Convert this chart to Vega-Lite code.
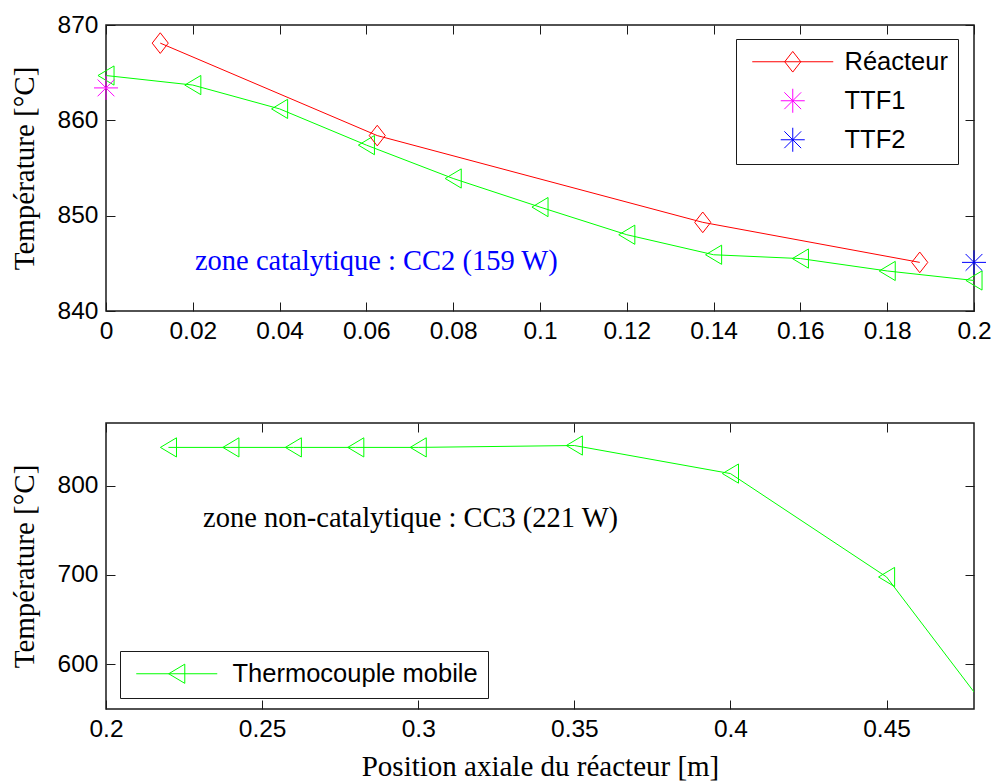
{
  "$schema": "https://vega.github.io/schema/vega-lite/v6.json",
  "background": "white",
  "padding": {"left": 9, "top": 11, "right": 5, "bottom": 5},
  "spacing": 112,
  "bounds": "flush",
  "datasets": {
    "tcTop": [
      {"x": 0, "y": 864.7}, {"x": 0.02, "y": 863.7}, {"x": 0.04, "y": 861.2},
      {"x": 0.06, "y": 857.4}, {"x": 0.08, "y": 853.9}, {"x": 0.1, "y": 850.9},
      {"x": 0.12, "y": 848.0}, {"x": 0.14, "y": 845.9}, {"x": 0.16, "y": 845.5},
      {"x": 0.18, "y": 844.2}, {"x": 0.2, "y": 843.2}
    ],
    "reacteur": [
      {"x": 0.0125, "y": 868.1, "serie": "Réacteur"},
      {"x": 0.0625, "y": 858.4, "serie": "Réacteur"},
      {"x": 0.1375, "y": 849.3, "serie": "Réacteur"},
      {"x": 0.1875, "y": 845.1, "serie": "Réacteur"}
    ],
    "ttf": [
      {"x": 0, "y": 863.4, "serie": "TTF1"},
      {"x": 0.2, "y": 845.1, "serie": "TTF2"}
    ],
    "tcBot": [
      {"x": 0.22, "y": 842.7, "serie": "Thermocouple mobile"},
      {"x": 0.24, "y": 842.7, "serie": "Thermocouple mobile"},
      {"x": 0.26, "y": 842.7, "serie": "Thermocouple mobile"},
      {"x": 0.28, "y": 842.7, "serie": "Thermocouple mobile"},
      {"x": 0.30, "y": 842.7, "serie": "Thermocouple mobile"},
      {"x": 0.35, "y": 844.8, "serie": "Thermocouple mobile"},
      {"x": 0.40, "y": 813.4, "serie": "Thermocouple mobile"},
      {"x": 0.45, "y": 697.7, "serie": "Thermocouple mobile"},
      {"x": 0.50, "y": 468.0, "serie": "Thermocouple mobile"}
    ],
    "noteTop": [{"x": 0.0205, "y": 845.2, "label": "zone catalytique : CC2 (159 W)"}],
    "noteBot": [{"x": 0.2311, "y": 764, "label": "zone non-catalytique : CC3 (221 W)"}]
  },
  "config": {
    "view": {"stroke": "#1a1a1a", "strokeWidth": 1.5},
    "axis": {
      "domain": false, "grid": false, "tickColor": "#1a1a1a", "tickSize": -9, "tickWidth": 1,
      "labelFont": "Liberation Sans", "labelFontSize": 24.5, "labelColor": "black",
      "labelPadding": 17, "labelFlush": false, "labelOverlap": false,
      "titleFont": "Liberation Serif", "titleFontSize": 29, "titleFontWeight": "normal", "titleColor": "black"
    },
    "legend": {
      "orient": "none", "strokeColor": "#1a1a1a", "fillColor": "white", "padding": 10, "cornerRadius": 0,
      "labelFont": "Liberation Sans", "labelFontSize": 25.5, "labelColor": "black",
      "symbolSize": 576, "symbolStrokeWidth": 1, "rowPadding": 10, "symbolOffset": 34, "labelLimit": 400
    }
  },
  "resolve": {
    "scale": {"color": "independent"},
    "legend": {"color": "independent"}
  },
  "vconcat": [
    {
      "width": 868,
      "height": 286,
      "resolve": {"axis": {"x": "independent", "y": "independent"}},
      "layer": [
        {
          "data": {"name": "tcTop"},
          "mark": {"type": "line", "color": "#00FF00", "strokeWidth": 1},
          "encoding": {
            "x": {"field": "x", "type": "quantitative",
                  "scale": {"domain": [0, 0.2], "nice": false, "zero": false},
                  "axis": {"orient": "bottom", "values": [0, 0.02, 0.04, 0.06, 0.08, 0.1, 0.12, 0.14, 0.16, 0.18, 0.2], "format": "~g", "title": null}},
            "y": {"field": "y", "type": "quantitative",
                  "scale": {"domain": [840, 870], "nice": false, "zero": false},
                  "axis": {"orient": "left", "values": [840, 850, 860, 870], "title": "Température [°C]", "titlePadding": 18}}
          }
        },
        {
          "data": {"name": "tcTop"},
          "mark": {"type": "point", "shape": "M-0.67,0L0.67,-0.8L0.67,0.8Z", "size": 576, "filled": false, "color": "#00FF00", "strokeWidth": 1, "opacity": 1},
          "encoding": {
            "x": {"field": "x", "type": "quantitative",
                  "axis": {"orient": "top", "values": [0, 0.02, 0.04, 0.06, 0.08, 0.1, 0.12, 0.14, 0.16, 0.18, 0.2], "labels": false, "title": null}},
            "y": {"field": "y", "type": "quantitative",
                  "axis": {"orient": "right", "values": [840, 850, 860, 870], "labels": false, "title": null}}
          }
        },
        {
          "data": {"name": "reacteur"},
          "mark": {"type": "line", "color": "#FF0000", "strokeWidth": 1},
          "encoding": {
            "x": {"field": "x", "type": "quantitative", "axis": null},
            "y": {"field": "y", "type": "quantitative", "axis": null}
          }
        },
        {
          "data": {"name": "reacteur"},
          "mark": {"type": "point", "shape": "M0,-0.86L0.67,0L0,0.86L-0.67,0Z", "size": 576, "filled": false, "strokeWidth": 1, "opacity": 1},
          "encoding": {
            "x": {"field": "x", "type": "quantitative", "axis": null},
            "y": {"field": "y", "type": "quantitative", "axis": null},
            "color": {"field": "serie", "type": "nominal",
                      "scale": {"domain": ["Réacteur", "TTF1", "TTF2"], "range": ["#FF0000", "#FF00FF", "#0000FF"]},
                      "legend": {"title": null, "legendX": 630, "legendY": 14, "labelOffset": 39,
                                 "symbolType": {"expr": "datum.value === 'Réacteur' ? 'M-3.375,0L3.375,0M0,-0.86L0.67,0L0,0.86L-0.67,0Z' : 'M-1,0L1,0M0,-1L0,1M-0.7,-0.7L0.7,0.7M-0.7,0.7L0.7,-0.7'"}}}
          }
        },
        {
          "data": {"name": "ttf"},
          "mark": {"type": "point", "shape": "M-1,0L1,0M0,-1L0,1M-0.7,-0.7L0.7,0.7M-0.7,0.7L0.7,-0.7", "size": 576, "filled": false, "strokeWidth": 1, "opacity": 1},
          "encoding": {
            "x": {"field": "x", "type": "quantitative", "axis": null},
            "y": {"field": "y", "type": "quantitative", "axis": null},
            "color": {"field": "serie", "type": "nominal",
                      "legend": {"title": null, "legendX": 630, "legendY": 14, "labelOffset": 39,
                                 "symbolType": {"expr": "datum.value === 'Réacteur' ? 'M-3.375,0L3.375,0M0,-0.86L0.67,0L0,0.86L-0.67,0Z' : 'M-1,0L1,0M0,-1L0,1M-0.7,-0.7L0.7,0.7M-0.7,0.7L0.7,-0.7'"}}}
          }
        },
        {
          "data": {"name": "noteTop"},
          "mark": {"type": "text", "font": "Liberation Serif", "fontSize": 28.5, "color": "#0000FF", "align": "left", "baseline": "middle"},
          "encoding": {
            "x": {"field": "x", "type": "quantitative", "axis": null},
            "y": {"field": "y", "type": "quantitative", "axis": null},
            "text": {"field": "label"}
          }
        }
      ]
    },
    {
      "width": 868,
      "height": 286,
      "resolve": {"axis": {"x": "independent", "y": "independent"}},
      "layer": [
        {
          "data": {"name": "tcBot"},
          "mark": {"type": "line", "color": "#00FF00", "strokeWidth": 1, "clip": true},
          "encoding": {
            "x": {"field": "x", "type": "quantitative",
                  "scale": {"domain": [0.2, 0.478], "nice": false, "zero": false},
                  "axis": {"orient": "bottom", "values": [0.2, 0.25, 0.3, 0.35, 0.4, 0.45], "format": "~g", "title": "Position axiale du réacteur [m]", "titlePadding": 12}},
            "y": {"field": "y", "type": "quantitative",
                  "scale": {"domain": [550, 870], "nice": false, "zero": false},
                  "axis": {"orient": "left", "values": [600, 700, 800], "title": "Température [°C]", "titlePadding": 18}}
          }
        },
        {
          "data": {"name": "tcBot"},
          "mark": {"type": "point", "shape": "M-0.67,0L0.67,-0.8L0.67,0.8Z", "size": 576, "filled": false, "strokeWidth": 1, "opacity": 1, "clip": true},
          "encoding": {
            "x": {"field": "x", "type": "quantitative",
                  "axis": {"orient": "top", "values": [0.2, 0.25, 0.3, 0.35, 0.4, 0.45], "labels": false, "title": null}},
            "y": {"field": "y", "type": "quantitative",
                  "axis": {"orient": "right", "values": [600, 700, 800], "labels": false, "title": null}},
            "color": {"field": "serie", "type": "nominal",
                      "scale": {"domain": ["Thermocouple mobile"], "range": ["#00FF00"]},
                      "legend": {"title": null, "legendX": 14, "legendY": 228, "labelOffset": 43,
                                 "symbolType": "M-3.375,0L3.375,0M-0.67,0L0.67,-0.8L0.67,0.8Z"}}
          }
        },
        {
          "data": {"name": "noteBot"},
          "mark": {"type": "text", "font": "Liberation Serif", "fontSize": 28.5, "color": "black", "align": "left", "baseline": "middle"},
          "encoding": {
            "x": {"field": "x", "type": "quantitative", "axis": null},
            "y": {"field": "y", "type": "quantitative", "axis": null},
            "text": {"field": "label"}
          }
        }
      ]
    }
  ]
}
